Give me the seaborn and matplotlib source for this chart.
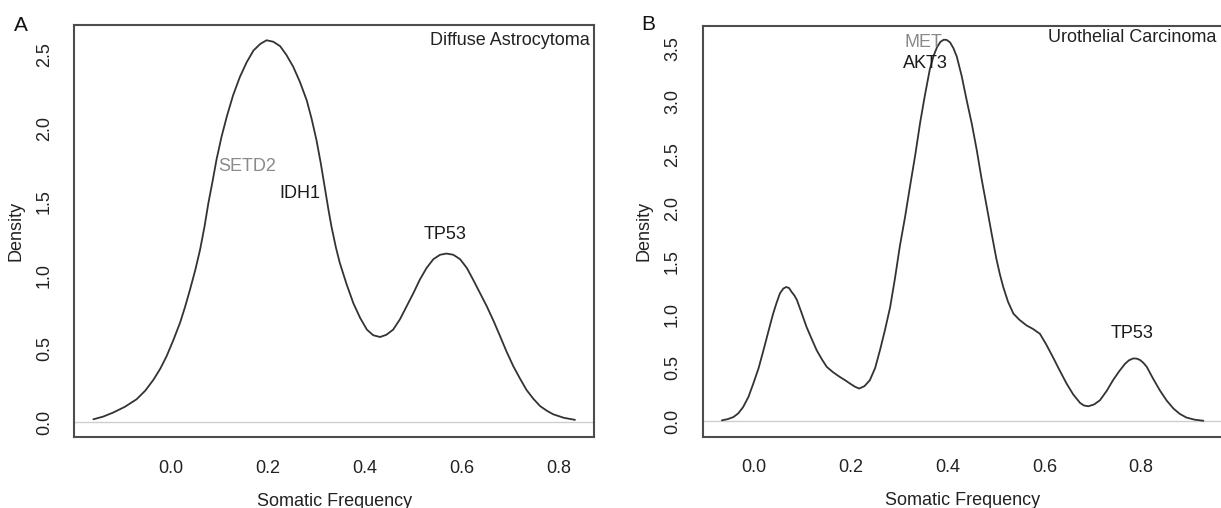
"""
Density of somatic mutation frequency, two tumour types side by side.
Curve values read off the published figure.
"""
import matplotlib
matplotlib.use("Agg")
import matplotlib.pyplot as plt
import pandas as pd
import seaborn as sns

# Panel A - Diffuse Astrocytoma
A_FREQ = [-0.160, -0.140, -0.119, -0.095, -0.071, -0.053, -0.036, -0.022, -0.009, 0.005,
          0.019, 0.029, 0.039, 0.050, 0.060, 0.069, 0.077, 0.086, 0.094, 0.104,
          0.115, 0.128, 0.142, 0.156, 0.170, 0.184, 0.197, 0.211, 0.225, 0.238,
          0.252, 0.266, 0.280, 0.290, 0.300, 0.309, 0.318, 0.325, 0.331, 0.340,
          0.348, 0.362, 0.376, 0.390, 0.404, 0.417, 0.431, 0.444, 0.458, 0.472,
          0.486, 0.500, 0.513, 0.527, 0.541, 0.555, 0.568, 0.582, 0.596, 0.610,
          0.623, 0.637, 0.651, 0.665, 0.678, 0.692, 0.706, 0.720, 0.733, 0.747,
          0.761, 0.775, 0.788, 0.810, 0.833]
A_DENS = [0.020, 0.038, 0.066, 0.105, 0.156, 0.215, 0.290, 0.365, 0.450, 0.560,
          0.680, 0.785, 0.900, 1.035, 1.175, 1.330, 1.490, 1.645, 1.790, 1.940,
          2.080, 2.225, 2.350, 2.450, 2.530, 2.575, 2.600, 2.590, 2.560, 2.500,
          2.420, 2.315, 2.190, 2.065, 1.920, 1.760, 1.580, 1.440, 1.330, 1.190,
          1.085, 0.940, 0.810, 0.710, 0.630, 0.592, 0.580, 0.595, 0.630, 0.700,
          0.790, 0.880, 0.970, 1.050, 1.110, 1.140, 1.148, 1.140, 1.110, 1.050,
          0.970, 0.880, 0.790, 0.690, 0.590, 0.480, 0.380, 0.295, 0.220, 0.160,
          0.110, 0.078, 0.054, 0.030, 0.016]
A_GENES = ["SETD2", "IDH1", "TP53"]
A_GENE_X = [0.157, 0.266, 0.566]
A_GENE_Y = [1.74, 1.56, 1.28]
A_GENE_COL = ["#8a8a8a", "#1a1a1a", "#1a1a1a"]

# Panel B - Urothelial Carcinoma
B_FREQ = [-0.067, -0.055, -0.043, -0.033, -0.023, -0.012, -0.002, 0.009, 0.019, 0.029,
          0.039, 0.046, 0.053, 0.060, 0.066, 0.072, 0.077, 0.083, 0.088, 0.098,
          0.108, 0.119, 0.129, 0.140, 0.150, 0.163, 0.177, 0.188, 0.198, 0.208,
          0.217, 0.228, 0.239, 0.250, 0.260, 0.270, 0.281, 0.291, 0.301, 0.312,
          0.322, 0.333, 0.343, 0.353, 0.363, 0.371, 0.378, 0.385, 0.392, 0.398,
          0.405, 0.412, 0.419, 0.429, 0.439, 0.450, 0.460, 0.470, 0.481, 0.491,
          0.501, 0.508, 0.515, 0.525, 0.536, 0.549, 0.563, 0.577, 0.591, 0.604,
          0.618, 0.632, 0.646, 0.660, 0.674, 0.682, 0.691, 0.703, 0.715, 0.729,
          0.742, 0.755, 0.767, 0.775, 0.784, 0.791, 0.798, 0.805, 0.812, 0.825,
          0.839, 0.853, 0.867, 0.880, 0.894, 0.911, 0.929]
B_DENS = [0.009, 0.020, 0.040, 0.075, 0.134, 0.230, 0.354, 0.500, 0.667, 0.840,
          1.010, 1.110, 1.200, 1.245, 1.260, 1.250, 1.215, 1.180, 1.140, 1.015,
          0.886, 0.770, 0.667, 0.580, 0.510, 0.460, 0.416, 0.385, 0.354, 0.325,
          0.307, 0.330, 0.385, 0.500, 0.667, 0.850, 1.070, 1.340, 1.640, 1.920,
          2.200, 2.500, 2.800, 3.060, 3.300, 3.430, 3.510, 3.560, 3.580, 3.578,
          3.555, 3.500, 3.420, 3.240, 3.020, 2.790, 2.550, 2.280, 2.010, 1.760,
          1.520, 1.380, 1.260, 1.120, 1.010, 0.950, 0.900, 0.865, 0.820, 0.720,
          0.600, 0.475, 0.354, 0.250, 0.172, 0.148, 0.141, 0.158, 0.197, 0.285,
          0.385, 0.470, 0.540, 0.572, 0.590, 0.588, 0.575, 0.548, 0.510, 0.400,
          0.290, 0.195, 0.120, 0.070, 0.035, 0.015, 0.005]
B_GENES = ["MET", "AKT3", "TP53"]
B_GENE_X = [0.349, 0.355, 0.781]
B_GENE_Y = [3.55, 3.355, 0.82]
B_GENE_COL = ["#8a8a8a", "#1a1a1a", "#1a1a1a"]

X_TICKS = [0.0, 0.2, 0.4, 0.6, 0.8]

sns.set_theme(style="white")
plt.rcParams["font.family"] = ["Liberation Sans", "DejaVu Sans"]

LINE = "#333333"
FRAME = "#4d4d4d"


def density_panel(ax, freq, dens, xlim, ylim, yticks, title, title_xy,
                  genes, gx, gy, gcol):
    df = pd.DataFrame({"freq": freq, "density": dens})
    ax.axhline(0, color="#cfcfcf", lw=1.0, zorder=1)
    sns.lineplot(data=df, x="freq", y="density", ax=ax, color=LINE, lw=1.3, zorder=2)

    ax.set_xlim(*xlim)
    ax.set_ylim(*ylim)
    ax.set_xticks(X_TICKS)
    ax.set_xticklabels([f"{t:.1f}" for t in X_TICKS])
    ax.set_yticks(yticks)
    ax.set_yticklabels([f"{t:.1f}" for t in yticks])
    ax.tick_params(axis="both", direction="out", length=7.5, width=1.1,
                   color=FRAME, labelsize=13, labelcolor="#222222")
    ax.tick_params(axis="x", pad=9)
    ax.tick_params(axis="y", pad=8, labelrotation=90)
    for lab in ax.get_yticklabels():
        lab.set_va("center")

    for s in ax.spines.values():
        s.set_visible(True)
        s.set_color(FRAME)
        s.set_linewidth(1.5)

    ax.set_xlabel("Somatic Frequency", fontsize=13, color="#222222", labelpad=11)
    ax.set_ylabel("Density", fontsize=13, color="#222222", labelpad=8)

    ax.text(title_xy[0], title_xy[1], title, transform=ax.transAxes,
            ha="right", va="center", fontsize=13, color="#222222")
    for g, x, y, c in zip(genes, gx, gy, gcol):
        ax.text(x, y, g, ha="center", va="center", fontsize=13, color=c)


fig = plt.figure(figsize=(12.21, 5.08), dpi=100)
ax_a = fig.add_axes([0.0610, 0.1388, 0.4258, 0.8120])
ax_b = fig.add_axes([0.5754, 0.1407, 0.4260, 0.8090])

density_panel(ax_a, A_FREQ, A_DENS, (-0.199, 0.873), (-0.104, 2.704),
              [0.0, 0.5, 1.0, 1.5, 2.0, 2.5], "Diffuse Astrocytoma", (0.9915, 0.9636),
              A_GENES, A_GENE_X, A_GENE_Y, A_GENE_COL)
density_panel(ax_b, B_FREQ, B_DENS, (-0.107, 0.969), (-0.143, 3.713),
              [0.0, 0.5, 1.0, 1.5, 2.0, 2.5, 3.0, 3.5], "Urothelial Carcinoma", (0.9883, 0.971),
              B_GENES, B_GENE_X, B_GENE_Y, B_GENE_COL)

fig.text(21 / 1221, 1 - 25.5 / 508, "A", fontsize=15, ha="center", va="center", color="#111111")
fig.text(648 / 1221, 1 - 25 / 508, "B", fontsize=15, ha="center", va="center", color="#111111")

fig.savefig("out.png", dpi=100)
plt.close(fig)
